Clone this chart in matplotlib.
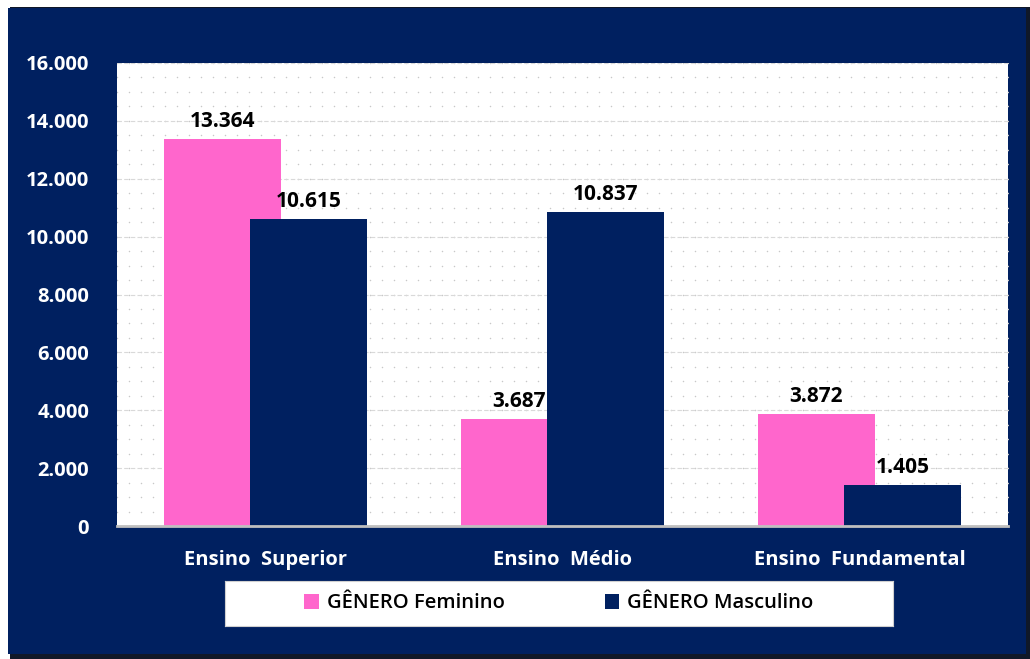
import matplotlib
matplotlib.use("Agg")
import matplotlib.pyplot as plt
import numpy as np
from matplotlib.patches import Rectangle

categories = ["Ensino  Superior", "Ensino  Médio", "Ensino  Fundamental"]
feminino = [13364, 3687, 3872]
masculino = [10615, 10837, 1405]
series_names = ["GÊNERO Feminino", "GÊNERO Masculino"]
yticks = [0, 2000, 4000, 6000, 8000, 10000, 12000, 14000, 16000]

PINK = "#FF66CC"
NAVY = "#002060"

def fmt(v):
    return f"{v:,.0f}".replace(",", ".")

plt.rcParams['font.family'] = ['Open Sans', 'DejaVu Sans']

W, H = 1030, 659
fig = plt.figure(figsize=(W / 100, H / 100), dpi=100)
fig.patch.set_facecolor("white")

# outer navy frame with soft shadow
fig.patches.append(Rectangle((10 / W, 0), 1020 / W, 652 / H, transform=fig.transFigure,
                             facecolor="#101828", edgecolor="none", zorder=-2))
fig.patches.append(Rectangle((8 / W, 5 / H), 1018 / W, 646 / H, transform=fig.transFigure,
                             facecolor=NAVY, edgecolor="none", zorder=-1))

ax = fig.add_axes([117 / W, (H - 526) / H, (1008 - 117) / W, (526 - 63) / H])
ax.set_facecolor("white")

# dotted background pattern
xs = np.linspace(-0.5, 2.5, 75)
ys = np.arange(0, 16001, 500)
XX, YY = np.meshgrid(xs, ys)
ax.scatter(XX.ravel(), YY.ravel(), s=1.2, color="#c8c8c8", zorder=0.5, linewidths=0)

x = np.arange(len(categories))
bw = 0.394
off = 0.146
b1 = ax.bar(x - off, feminino, bw, color=PINK, zorder=2, label=series_names[0])
b2 = ax.bar(x + off, masculino, bw, color=NAVY, zorder=3, label=series_names[1])

for bars, vals in ((b1, feminino), (b2, masculino)):
    for r, v in zip(bars, vals):
        ax.annotate(fmt(v), (r.get_x() + r.get_width() / 2, v), xytext=(0, 5),
                    textcoords="offset points", ha="center", va="bottom",
                    fontsize=15, fontweight="bold", color="black", zorder=5)

ax.set_xlim(-0.5, 2.5)
ax.set_ylim(0, 16000)
ax.set_yticks(yticks)
ax.set_yticklabels([fmt(v) for v in yticks])
ax.set_xticks(x)
ax.set_xticklabels(categories)
ax.tick_params(axis="y", length=0, pad=20, labelsize=14.5, labelcolor="white")
ax.tick_params(axis="x", length=0, pad=17, labelsize=14.5, labelcolor="white")
for lab in ax.get_xticklabels() + ax.get_yticklabels():
    lab.set_fontweight("bold")

ax.grid(axis="y", color="#d9d9d9", linestyle=(0, (4, 2)), linewidth=0.8, zorder=1)
ax.set_axisbelow(True)
for s in ["top", "right", "left"]:
    ax.spines[s].set_visible(False)
ax.spines["bottom"].set_color("#bfbfbf")
ax.spines["bottom"].set_linewidth(2)
ax.spines["bottom"].set_zorder(4)

# legend
leg_box = fig.add_axes([225 / W, (H - 626) / H, (893 - 225) / W, (626 - 581) / H])
leg_box.set_facecolor("white")
leg_box.set_xticks([]); leg_box.set_yticks([])
for s in leg_box.spines.values():
    s.set_color("#d0d0d0")
leg = leg_box.legend(handles=[b1, b2], labels=series_names, loc="center", ncol=2,
                     frameon=False, fontsize=14.5, handlelength=0.7, handleheight=0.7,
                     handletextpad=0.4, columnspacing=5.0)
for t in leg.get_texts():
    t.set_fontweight("semibold")

fig.savefig("out.png", dpi=100, facecolor=fig.get_facecolor())
